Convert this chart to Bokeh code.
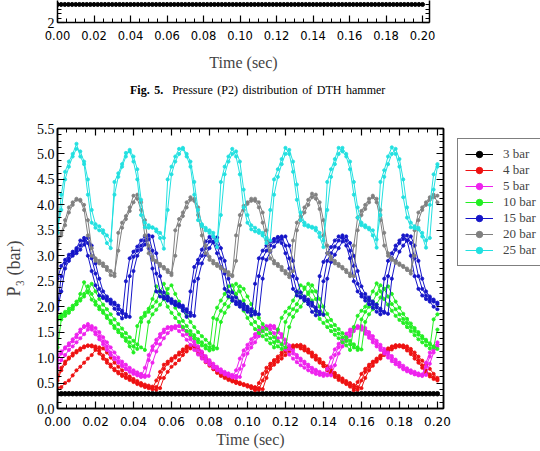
from bokeh.plotting import figure
from bokeh.layouts import column, row
from bokeh.models import (Range1d, LinearAxis, FixedTicker, PrintfTickFormatter, CustomJSTickFormatter,
                          Legend, LegendItem, Div)
from bokeh.embed import file_html
from bokeh.resources import INLINE

# ---------------- data ----------------
T = [0.000, 0.002, 0.004, 0.006, 0.008, 0.010, 0.012, 0.014, 0.016, 0.018,
     0.020, 0.022, 0.024, 0.026, 0.028, 0.030, 0.032, 0.034, 0.036, 0.038,
     0.040, 0.042, 0.044, 0.046, 0.048, 0.050, 0.052, 0.054, 0.056, 0.058,
     0.060, 0.062, 0.064, 0.066, 0.068, 0.070, 0.072, 0.074, 0.076, 0.078,
     0.080, 0.082, 0.084, 0.086, 0.088, 0.090, 0.092, 0.094, 0.096, 0.098,
     0.100, 0.102, 0.104, 0.106, 0.108, 0.110, 0.112, 0.114, 0.116, 0.118,
     0.120, 0.122, 0.124, 0.126, 0.128, 0.130, 0.132, 0.134, 0.136, 0.138,
     0.140, 0.142, 0.144, 0.146, 0.148, 0.150, 0.152, 0.154, 0.156, 0.158,
     0.160, 0.162, 0.164, 0.166, 0.168, 0.170, 0.172, 0.174, 0.176, 0.178,
     0.180, 0.182, 0.184, 0.186, 0.188, 0.190, 0.192, 0.194, 0.196, 0.198,
     0.200]

P3_3BAR = [0.29, 0.29, 0.29, 0.29, 0.29, 0.29, 0.29, 0.29, 0.29, 0.29,
           0.29, 0.29, 0.29, 0.29, 0.29, 0.29, 0.29, 0.29, 0.29, 0.29,
           0.29, 0.29, 0.29, 0.29, 0.29, 0.29, 0.29, 0.29, 0.29, 0.29,
           0.29, 0.29, 0.29, 0.29, 0.29, 0.29, 0.29, 0.29, 0.29, 0.29,
           0.29, 0.29, 0.29, 0.29, 0.29, 0.29, 0.29, 0.29, 0.29, 0.29,
           0.29, 0.29, 0.29, 0.29, 0.29, 0.29, 0.29, 0.29, 0.29, 0.29,
           0.29, 0.29, 0.29, 0.29, 0.29, 0.29, 0.29, 0.29, 0.29, 0.29,
           0.29, 0.29, 0.29, 0.29, 0.29, 0.29, 0.29, 0.29, 0.29, 0.29,
           0.29, 0.29, 0.29, 0.29, 0.29, 0.29, 0.29, 0.29, 0.29, 0.29,
           0.29, 0.29, 0.29, 0.29, 0.29, 0.29, 0.29, 0.29, 0.29, 0.29,
           0.29]

P3_4BAR_A = [0.55, 0.75, 0.88, 0.98, 1.04, 1.1, 1.15, 1.2, 1.23, 1.24,
             1.22, 1.14, 1.04, 0.95, 0.86, 0.78, 0.72, 0.67, 0.62, 0.58,
             0.54, 0.5, 0.47, 0.44, 0.42, 0.39, 0.55, 0.72, 0.86, 0.92,
             0.98, 1.03, 1.1, 1.16, 1.22, 1.24, 1.2, 1.08, 1.0, 0.91,
             0.84, 0.77, 0.7, 0.64, 0.6, 0.56, 0.53, 0.5, 0.48, 0.46,
             0.43, 0.4, 0.36, 0.5, 0.68, 0.8, 0.88, 0.95, 1.02, 1.1,
             1.17, 1.22, 1.24, 1.22, 1.18, 1.14, 1.1, 1.02, 0.96, 0.9,
             0.83, 0.75, 0.68, 0.62, 0.56, 0.52, 0.48, 0.43, 0.36, 0.52,
             0.68, 0.78, 0.86, 0.92, 0.98, 1.04, 1.12, 1.18, 1.22, 1.24,
             1.22, 1.2, 1.14, 1.07, 0.98, 0.9, 0.8, 0.7, 0.63, 0.58,
             0.55]
P3_4BAR_B = [0.4, 0.42, 0.5, 0.55, 0.65, 0.75, 0.82, 0.9, 0.98, 1.05,
             1.15, 1.2, 1.18, 1.1, 1.0, 0.9, 0.82, 0.75, 0.68, 0.63,
             0.58, 0.54, 0.5, 0.47, 0.45, 0.43, 0.42, 0.4, 0.6, 0.72,
             0.82, 0.88, 0.95, 1.05, 1.12, 1.18, 1.22, 1.2, 1.1, 1.0,
             0.92, 0.85, 0.78, 0.72, 0.66, 0.61, 0.57, 0.54, 0.51, 0.48,
             0.46, 0.44, 0.42, 0.4, 0.38, 0.6, 0.78, 0.86, 0.92, 0.98,
             1.05, 1.12, 1.18, 1.24, 1.25, 1.22, 1.16, 1.1, 1.04, 0.97,
             0.9, 0.83, 0.76, 0.7, 0.64, 0.59, 0.54, 0.5, 0.46, 0.42,
             0.4, 0.6, 0.75, 0.84, 0.92, 0.98, 1.05, 1.12, 1.16, 1.2,
             1.24, 1.24, 1.22, 1.17, 1.1, 1.02, 0.94, 0.86, 0.78, 0.68,
             0.6]
P3_4BAR_C = [0.62, 0.8, 0.92, 1.0, 1.08, 1.13, 1.18, 1.22, 1.24, 1.22,
             1.18, 1.08, 0.98, 0.9, 0.82, 0.75, 0.69, 0.64, 0.6, 0.56,
             0.52, 0.48, 0.45, 0.42, 0.4, 0.38, 0.37, 0.6, 0.78, 0.88,
             0.94, 1.0, 1.06, 1.12, 1.18, 1.22, 1.24, 1.18, 1.08, 0.98,
             0.9, 0.82, 0.74, 0.68, 0.63, 0.58, 0.55, 0.52, 0.49, 0.47,
             0.45, 0.42, 0.39, 0.37, 0.55, 0.72, 0.84, 0.92, 0.98, 1.05,
             1.12, 1.18, 1.22, 1.24, 1.22, 1.18, 1.12, 1.06, 0.99, 0.92,
             0.86, 0.79, 0.72, 0.66, 0.6, 0.55, 0.5, 0.46, 0.41, 0.37,
             0.55, 0.72, 0.82, 0.9, 0.96, 1.02, 1.08, 1.15, 1.2, 1.24,
             1.24, 1.22, 1.18, 1.12, 1.04, 0.95, 0.85, 0.75, 0.67, 0.61,
             0.57]

P3_5BAR_A = [0.95, 1.08, 1.18, 1.24, 1.32, 1.4, 1.5, 1.6, 1.66, 1.58,
             1.5, 1.42, 1.32, 1.22, 1.1, 1.0, 0.93, 0.86, 0.79, 0.74,
             0.7, 0.67, 0.63, 0.62, 0.95, 1.15, 1.28, 1.4, 1.5, 1.58,
             1.6, 1.62, 1.62, 1.55, 1.46, 1.36, 1.25, 1.14, 1.05, 0.97,
             0.9, 0.83, 0.78, 0.73, 0.69, 0.66, 0.63, 0.6, 0.78, 1.05,
             1.18, 1.28, 1.4, 1.5, 1.57, 1.6, 1.63, 1.58, 1.5, 1.4,
             1.28, 1.17, 1.08, 1.0, 0.94, 0.88, 0.82, 0.77, 0.73, 0.7,
             0.67, 0.65, 0.82, 1.05, 1.2, 1.3, 1.4, 1.5, 1.57, 1.62,
             1.6, 1.52, 1.44, 1.36, 1.27, 1.2, 1.13, 1.06, 0.98, 0.91,
             0.86, 0.8, 0.75, 0.71, 0.68, 0.66, 0.65, 0.9, 1.1, 1.2,
             1.3]
P3_5BAR_B = [0.8, 0.95, 1.05, 1.15, 1.22, 1.3, 1.38, 1.46, 1.55, 1.62,
             1.58, 1.5, 1.4, 1.3, 1.2, 1.1, 1.0, 0.92, 0.86, 0.8,
             0.75, 0.71, 0.68, 0.65, 0.64, 0.9, 1.12, 1.26, 1.38, 1.48,
             1.55, 1.6, 1.62, 1.6, 1.52, 1.42, 1.32, 1.22, 1.12, 1.03,
             0.95, 0.88, 0.82, 0.77, 0.72, 0.69, 0.66, 0.64, 0.62, 0.85,
             1.08, 1.2, 1.3, 1.42, 1.52, 1.58, 1.62, 1.62, 1.55, 1.46,
             1.35, 1.24, 1.14, 1.05, 0.98, 0.92, 0.86, 0.8, 0.76, 0.72,
             0.69, 0.67, 0.65, 0.85, 1.08, 1.22, 1.33, 1.43, 1.52, 1.58,
             1.62, 1.58, 1.5, 1.42, 1.33, 1.25, 1.17, 1.1, 1.03, 0.96,
             0.9, 0.84, 0.79, 0.75, 0.72, 0.69, 0.67, 0.66, 0.88, 1.1,
             1.22]
P3_5BAR_C = [1.05, 1.12, 1.2, 1.28, 1.36, 1.45, 1.55, 1.62, 1.62, 1.55,
             1.46, 1.36, 1.26, 1.15, 1.05, 0.97, 0.9, 0.83, 0.77, 0.72,
             0.68, 0.65, 0.62, 0.8, 1.05, 1.22, 1.35, 1.46, 1.55, 1.6,
             1.6, 1.58, 1.52, 1.44, 1.35, 1.25, 1.15, 1.06, 0.98, 0.92,
             0.86, 0.8, 0.75, 0.71, 0.67, 0.64, 0.61, 0.75, 0.98, 1.14,
             1.25, 1.36, 1.46, 1.54, 1.6, 1.62, 1.56, 1.48, 1.38, 1.27,
             1.16, 1.06, 0.98, 0.91, 0.85, 0.8, 0.75, 0.71, 0.68, 0.66,
             0.64, 0.78, 1.0, 1.16, 1.27, 1.37, 1.47, 1.55, 1.6, 1.6,
             1.55, 1.47, 1.39, 1.3, 1.22, 1.15, 1.08, 1.0, 0.93, 0.87,
             0.82, 0.77, 0.73, 0.7, 0.67, 0.65, 0.64, 0.82, 1.02, 1.16,
             1.26]

P3_10BAR_A = [1.2, 1.75, 1.82, 1.88, 1.95, 2.05, 2.25, 2.48, 2.28, 2.14,
              2.04, 1.95, 1.88, 1.78, 1.68, 1.58, 1.5, 1.42, 1.33, 1.22,
              1.1, 1.62, 1.78, 1.88, 1.96, 2.15, 2.4, 2.3, 2.15, 2.0,
              1.88, 1.78, 1.7, 1.6, 1.52, 1.45, 1.38, 1.3, 1.24, 1.18,
              1.14, 1.78, 1.98, 2.12, 2.25, 2.4, 2.42, 2.25, 2.08, 1.92,
              1.78, 1.66, 1.56, 1.48, 1.42, 1.35, 1.28, 1.2, 1.55, 1.78,
              1.9, 1.98, 2.12, 2.28, 2.42, 2.38, 2.25, 2.12, 1.92, 1.76,
              1.68, 1.6, 1.52, 1.45, 1.38, 1.3, 1.24, 1.15, 1.6, 1.82,
              1.92, 2.0, 2.15, 2.3, 2.46, 2.3, 2.15, 2.04, 1.92, 1.82,
              1.74, 1.68, 1.6, 1.52, 1.44, 1.36, 1.3, 1.24, 1.18, 1.75,
              1.85]
P3_10BAR_B = [1.8, 1.85, 1.9, 1.96, 2.02, 2.1, 2.15, 2.25, 2.4, 2.25,
              2.1, 2.0, 1.92, 1.82, 1.72, 1.62, 1.54, 1.46, 1.38, 1.3,
              1.22, 1.17, 1.7, 1.82, 1.9, 2.0, 2.1, 2.3, 2.45, 2.25,
              2.1, 1.98, 1.85, 1.72, 1.62, 1.52, 1.44, 1.36, 1.3, 1.24,
              1.2, 1.16, 1.75, 1.92, 2.05, 2.18, 2.3, 2.45, 2.3, 2.12,
              1.96, 1.82, 1.7, 1.6, 1.52, 1.45, 1.38, 1.3, 1.22, 1.17,
              1.7, 1.85, 1.95, 2.05, 2.2, 2.35, 2.45, 2.3, 2.15, 2.0,
              1.85, 1.72, 1.62, 1.54, 1.47, 1.4, 1.33, 1.26, 1.2, 1.15,
              1.75, 1.9, 2.0, 2.1, 2.25, 2.42, 2.35, 2.2, 2.05, 1.95,
              1.85, 1.76, 1.68, 1.6, 1.52, 1.45, 1.38, 1.32, 1.26, 1.2,
              1.55]
P3_10BAR_C = [1.75, 1.8, 1.86, 1.92, 1.98, 2.05, 2.12, 2.2, 2.3, 2.45,
              2.3, 2.15, 2.04, 1.95, 1.85, 1.75, 1.66, 1.57, 1.48, 1.4,
              1.33, 1.26, 1.2, 1.15, 1.7, 1.85, 1.94, 2.04, 2.15, 2.35,
              2.42, 2.25, 2.1, 1.95, 1.82, 1.7, 1.6, 1.5, 1.42, 1.35,
              1.28, 1.22, 1.18, 1.7, 1.88, 2.0, 2.12, 2.25, 2.4, 2.35,
              2.2, 2.05, 1.9, 1.78, 1.66, 1.56, 1.48, 1.4, 1.32, 1.26,
              1.2, 1.6, 1.8, 1.92, 2.0, 2.12, 2.28, 2.42, 2.3, 2.15,
              2.0, 1.86, 1.74, 1.64, 1.56, 1.48, 1.4, 1.33, 1.26, 1.2,
              1.16, 1.7, 1.85, 1.95, 2.05, 2.18, 2.35, 2.4, 2.25, 2.1,
              1.98, 1.86, 1.76, 1.67, 1.58, 1.5, 1.42, 1.35, 1.28, 1.22,
              1.17]

P3_15BAR_A = [2.55, 2.8, 2.92, 3.02, 3.08, 3.15, 3.3, 3.3, 3.0, 2.7,
              2.42, 2.22, 2.17, 2.12, 2.06, 1.96, 1.86, 1.77, 2.5, 2.95,
              3.08, 3.18, 3.3, 3.38, 3.15, 2.75, 2.3, 2.2, 2.16, 2.12,
              2.07, 2.03, 2.0, 1.92, 1.8, 2.3, 2.78, 2.92, 3.12, 3.28,
              3.37, 3.26, 3.05, 2.78, 2.35, 2.2, 2.12, 2.05, 2.0, 1.95,
              1.9, 1.83, 2.45, 2.95, 3.1, 3.2, 3.28, 3.33, 3.37, 3.25,
              3.05, 2.75, 2.35, 2.22, 2.18, 2.12, 2.05, 1.9, 1.83, 2.6,
              2.88, 3.05, 3.17, 3.3, 3.38, 3.35, 3.2, 2.95, 2.5, 2.3,
              2.2, 2.12, 2.05, 1.98, 1.9, 1.85, 2.55, 2.9, 3.05, 3.2,
              3.3, 3.4, 3.3, 3.0, 2.6, 2.35, 2.22, 2.15, 2.1, 2.0,
              1.95]
P3_15BAR_B = [2.0, 2.6, 2.85, 2.95, 3.05, 3.1, 3.2, 3.35, 3.25, 2.95,
              2.65, 2.35, 2.2, 2.15, 2.1, 2.05, 1.95, 1.88, 1.8, 2.6,
              2.98, 3.1, 3.2, 3.3, 3.4, 3.1, 2.65, 2.3, 2.2, 2.15,
              2.1, 2.05, 2.02, 1.98, 1.9, 1.82, 2.5, 2.85, 3.0, 3.15,
              3.28, 3.38, 3.2, 2.95, 2.65, 2.3, 2.18, 2.1, 2.05, 2.0,
              1.95, 1.9, 1.85, 2.6, 2.95, 3.1, 3.2, 3.28, 3.35, 3.38,
              3.2, 2.95, 2.6, 2.3, 2.2, 2.15, 2.1, 2.02, 1.92, 1.85,
              2.5, 2.9, 3.05, 3.18, 3.3, 3.4, 3.3, 3.1, 2.8, 2.45,
              2.25, 2.18, 2.12, 2.05, 1.98, 1.92, 1.88, 2.6, 2.95, 3.12,
              3.25, 3.33, 3.4, 3.25, 2.95, 2.6, 2.35, 2.22, 2.15, 2.1,
              2.05]
P3_15BAR_C = [1.95, 2.3, 2.75, 2.9, 3.0, 3.05, 3.12, 3.22, 3.35, 3.2,
              2.85, 2.55, 2.3, 2.2, 2.14, 2.08, 2.02, 1.92, 1.85, 1.8,
              2.7, 3.0, 3.12, 3.22, 3.32, 3.38, 3.05, 2.6, 2.28, 2.2,
              2.15, 2.1, 2.05, 2.02, 1.95, 1.88, 1.82, 2.55, 2.85, 3.02,
              3.15, 3.28, 3.36, 3.15, 2.9, 2.55, 2.28, 2.18, 2.1, 2.05,
              2.0, 1.95, 1.9, 1.85, 2.55, 2.92, 3.08, 3.18, 3.28, 3.33,
              3.38, 3.2, 2.9, 2.55, 2.28, 2.2, 2.14, 2.08, 1.98, 1.9,
              1.84, 2.55, 2.88, 3.02, 3.15, 3.28, 3.38, 3.25, 3.0, 2.7,
              2.4, 2.25, 2.18, 2.1, 2.04, 1.96, 1.9, 1.86, 2.55, 2.9,
              3.08, 3.2, 3.3, 3.38, 3.2, 2.9, 2.55, 2.3, 2.2, 2.14,
              2.08]

P3_20BAR_A = [3.2, 3.45, 3.7, 3.95, 4.05, 4.12, 4.08, 3.9, 3.4, 3.0,
              2.9, 2.85, 2.8, 2.72, 2.62, 2.6, 3.45, 3.65, 3.78, 3.95,
              4.18, 4.12, 3.9, 3.4, 3.05, 2.92, 2.88, 2.8, 2.75, 2.68,
              2.62, 3.5, 3.72, 3.85, 4.05, 4.15, 4.08, 3.8, 3.4, 3.05,
              2.92, 2.85, 2.8, 2.75, 2.7, 2.62, 2.6, 3.4, 3.8, 3.98,
              4.05, 4.12, 4.08, 3.95, 3.65, 3.3, 2.95, 2.85, 2.8, 2.72,
              2.65, 2.58, 3.3, 3.65, 3.78, 3.95, 4.1, 4.22, 4.12, 3.92,
              3.4, 3.05, 2.93, 2.85, 2.8, 2.75, 2.68, 2.6, 3.2, 3.75,
              3.88, 4.0, 4.12, 4.15, 4.05, 3.7, 3.2, 3.0, 2.92, 2.86,
              2.82, 2.78, 2.72, 2.65, 3.5, 3.85, 3.95, 4.05, 4.15, 4.2,
              4.05]
P3_20BAR_B = [3.35, 3.4, 3.6, 3.85, 4.0, 4.1, 4.1, 4.0, 3.7, 3.15,
              2.95, 2.9, 2.85, 2.78, 2.7, 2.65, 3.1, 3.55, 3.72, 3.88,
              4.05, 4.2, 4.05, 3.7, 3.2, 2.98, 2.9, 2.84, 2.78, 2.72,
              2.66, 3.0, 3.6, 3.78, 3.95, 4.1, 4.12, 3.95, 3.6, 3.2,
              2.98, 2.9, 2.84, 2.78, 2.72, 2.68, 2.62, 2.9, 3.6, 3.9,
              4.02, 4.08, 4.12, 4.05, 3.85, 3.5, 3.1, 2.9, 2.84, 2.78,
              2.7, 2.64, 2.7, 3.5, 3.7, 3.85, 4.0, 4.15, 4.2, 4.05,
              3.7, 3.2, 2.98, 2.9, 2.84, 2.78, 2.72, 2.65, 2.6, 3.5,
              3.8, 3.92, 4.05, 4.18, 4.12, 3.9, 3.45, 3.05, 2.95, 2.9,
              2.85, 2.8, 2.75, 2.7, 3.0, 3.7, 3.9, 4.0, 4.1, 4.15,
              4.18]

P3_25BAR_A = [3.45, 4.2, 4.65, 4.85, 5.0, 5.2, 4.95, 4.8, 4.2, 3.65,
              3.55, 3.5, 3.45, 3.25, 3.15, 4.45, 4.62, 4.8, 5.02, 5.05,
              4.85, 4.5, 3.8, 3.56, 3.55, 3.56, 3.48, 3.35, 3.14, 4.5,
              4.75, 4.95, 5.1, 5.1, 4.95, 4.75, 4.2, 3.7, 3.58, 3.5,
              3.45, 3.38, 3.17, 4.45, 4.75, 4.95, 5.1, 4.95, 4.6, 3.95,
              3.65, 3.52, 3.48, 3.45, 3.4, 3.25, 3.9, 4.5, 4.7, 4.9,
              5.12, 5.0, 4.65, 4.1, 3.7, 3.6, 3.57, 3.55, 3.5, 3.37,
              3.17, 4.45, 4.7, 4.9, 5.12, 5.05, 4.95, 4.7, 4.2, 3.75,
              3.6, 3.56, 3.52, 3.4, 3.16, 4.45, 4.68, 4.95, 5.13, 5.0,
              4.75, 4.15, 3.75, 3.56, 3.54, 3.52, 3.38, 3.16, 4.0, 4.6,
              4.8]
P3_25BAR_B = [3.55, 3.9, 4.5, 4.75, 4.95, 5.1, 5.05, 4.85, 4.5, 3.9,
              3.62, 3.58, 3.5, 3.4, 3.3, 4.2, 4.55, 4.75, 4.95, 5.08,
              4.95, 4.7, 4.1, 3.65, 3.6, 3.55, 3.52, 3.45, 3.35, 3.9,
              4.6, 4.85, 5.0, 5.12, 5.0, 4.85, 4.45, 3.9, 3.62, 3.55,
              3.5, 3.45, 3.3, 3.8, 4.6, 4.85, 5.0, 5.05, 4.85, 4.3,
              3.8, 3.6, 3.55, 3.5, 3.45, 3.35, 3.3, 4.2, 4.55, 4.8,
              5.0, 5.08, 4.85, 4.4, 3.85, 3.65, 3.6, 3.57, 3.55, 3.45,
              3.3, 3.9, 4.55, 4.8, 5.0, 5.12, 5.0, 4.85, 4.45, 3.95,
              3.65, 3.6, 3.55, 3.5, 3.32, 3.8, 4.55, 4.8, 5.0, 5.1,
              4.9, 4.5, 3.95, 3.65, 3.58, 3.55, 3.45, 3.3, 3.35, 4.3,
              4.75]

# remnant of the previous figure (Fig. 5, P2, 3 bar line)
P2_3BAR = [2.41, 2.41, 2.41, 2.41, 2.41, 2.41, 2.41, 2.41, 2.41, 2.41,
           2.41, 2.41, 2.41, 2.41, 2.41, 2.41, 2.41, 2.41, 2.41, 2.41,
           2.41, 2.41, 2.41, 2.41, 2.41, 2.41, 2.41, 2.41, 2.41, 2.41,
           2.41, 2.41, 2.41, 2.41, 2.41, 2.41, 2.41, 2.41, 2.41, 2.41,
           2.41, 2.41, 2.41, 2.41, 2.41, 2.41, 2.41, 2.41, 2.41, 2.41,
           2.41, 2.41, 2.41, 2.41, 2.41, 2.41, 2.41, 2.41, 2.41, 2.41,
           2.41, 2.41, 2.41, 2.41, 2.41, 2.41, 2.41, 2.41, 2.41, 2.41,
           2.41, 2.41, 2.41, 2.41, 2.41, 2.41, 2.41, 2.41, 2.41, 2.41,
           2.41, 2.41, 2.41, 2.41, 2.41, 2.41, 2.41, 2.41, 2.41, 2.41,
           2.41, 2.41, 2.41, 2.41, 2.41, 2.41, 2.41, 2.41, 2.41, 2.41,
           2.41]

SERIES = [
    ("3 bar", "#000000", [P3_3BAR]),
    ("4 bar", "#EE1111", [P3_4BAR_A, P3_4BAR_B, P3_4BAR_C]),
    ("5 bar", "#EE22EE", [P3_5BAR_A, P3_5BAR_B, P3_5BAR_C]),
    ("10 bar", "#22EE22", [P3_10BAR_A, P3_10BAR_B, P3_10BAR_C]),
    ("15 bar", "#1515C8", [P3_15BAR_A, P3_15BAR_B, P3_15BAR_C]),
    ("20 bar", "#808080", [P3_20BAR_A, P3_20BAR_B]),
    ("25 bar", "#22E0E0", [P3_25BAR_A, P3_25BAR_B]),
]

X_TICKS = [0.00, 0.02, 0.04, 0.06, 0.08, 0.10, 0.12, 0.14, 0.16, 0.18, 0.20]
Y_TICKS = [0.0, 0.5, 1.0, 1.5, 2.0, 2.5, 3.0, 3.5, 4.0, 4.5, 5.0, 5.5]

X_LABEL = "Time (sec)"
Y_LABEL = "P\u2083 (bar)"
CAPTION_BOLD = "Fig. 5."
CAPTION_TEXT = "Pressure (P2) distribution of DTH hammer"

SERIF = "Liberation Serif"
SANS = "DejaVu Sans"

X_MINOR = [round(0.005 * i, 4) for i in range(0, 41)]
Y_MINOR = [round(0.125 * i, 4) for i in range(0, 45)]


def style_axis(ax, font, size, show=True, standoff=4):
    ax.major_tick_in = 7
    ax.major_tick_out = 0
    ax.minor_tick_in = 4
    ax.minor_tick_out = 0
    ax.axis_line_color = "black"
    ax.axis_line_width = 1.5
    ax.major_tick_line_color = "black"
    ax.major_tick_line_width = 1.2
    ax.minor_tick_line_color = "black"
    ax.minor_tick_line_width = 1.0
    ax.major_label_standoff = standoff
    ax.major_label_text_font = font
    ax.major_label_text_font_size = size
    ax.major_label_text_color = "black"
    if not show:
        # tick marks only: empty labels in a 1px font take (almost) no room
        ax.formatter = CustomJSTickFormatter(code="return '';")
        ax.major_label_text_font_size = "1px"
        ax.major_label_standoff = 0


LEFT_W = 453   # nominal width of the left column (strip, caption, chart)
LEG_W = 83     # width of the legend panel to its right
PAGE_H = 451

# ---------------- top strip: remnant of Fig. 5 ----------------
pt = figure(frame_width=372, frame_height=22, x_range=Range1d(0, 0.2038), y_range=Range1d(2, 2.5),
            output_backend="svg", toolbar_location=None,
            min_border_left=52, min_border_right=LEFT_W - 52 - 372, min_border_top=0, min_border_bottom=52)
pt.outline_line_color = None
pt.xgrid.visible = False
pt.ygrid.visible = False
pt.xaxis.ticker = FixedTicker(ticks=X_TICKS, minor_ticks=X_MINOR)
pt.xaxis.formatter = PrintfTickFormatter(format="%.2f")
style_axis(pt.xaxis[0], SANS, "11.5px", True, 8)
pt.xaxis.axis_label = X_LABEL
pt.xaxis.axis_label_text_font = SERIF
pt.xaxis.axis_label_text_font_size = "16px"
pt.xaxis.axis_label_text_font_style = "normal"
pt.xaxis.axis_label_standoff = 11
pt.yaxis.ticker = FixedTicker(ticks=[2], minor_ticks=[2.1, 2.2, 2.3, 2.4])
style_axis(pt.yaxis[0], SERIF, "14px", True, 3)
rt = LinearAxis(ticker=FixedTicker(ticks=[2], minor_ticks=[2.1, 2.2, 2.3, 2.4]))
style_axis(rt, SERIF, "14px", False)
pt.add_layout(rt, "right")

pt.line(T, P2_3BAR, line_color="black", line_width=1.5)
pt.scatter(T, P2_3BAR, marker="circle", size=4, fill_color="black", line_color="black")

caption = Div(text="<b>%s</b>&nbsp; %s" % (CAPTION_BOLD, CAPTION_TEXT), width=LEFT_W, height=38, margin=0,
              styles={"font-family": SERIF, "font-size": "12px", "padding-left": "130px",
                      "padding-top": "8px", "word-spacing": "1.5px", "white-space": "nowrap",
                      "color": "black", "box-sizing": "border-box", "overflow": "visible"})

# ---------------- main chart: P3 ----------------
p = figure(frame_width=386, frame_height=280, x_range=Range1d(0, 0.2032), y_range=Range1d(0, 5.5),
           output_backend="svg", toolbar_location=None,
           min_border_left=53, min_border_right=LEFT_W - 53 - 386, min_border_top=16, min_border_bottom=43)
p.outline_line_color = "black"
p.outline_line_width = 1.5
p.xgrid.visible = False
p.ygrid.visible = False

p.xaxis.ticker = FixedTicker(ticks=X_TICKS, minor_ticks=X_MINOR)
p.xaxis.formatter = PrintfTickFormatter(format="%.2f")
style_axis(p.xaxis[0], SANS, "12px", True, 8)
p.xaxis.axis_label = X_LABEL
p.xaxis.axis_label_text_font = SERIF
p.xaxis.axis_label_text_font_size = "16px"
p.xaxis.axis_label_text_font_style = "normal"
p.xaxis.axis_label_standoff = 2

p.yaxis.ticker = FixedTicker(ticks=Y_TICKS, minor_ticks=Y_MINOR)
p.yaxis.formatter = PrintfTickFormatter(format="%.1f")
style_axis(p.yaxis[0], SERIF, "14px", True, 3)
p.yaxis.axis_label = Y_LABEL
p.yaxis.axis_label_text_font = SERIF
p.yaxis.axis_label_text_font_size = "18px"
p.yaxis.axis_label_text_font_style = "normal"
p.yaxis.axis_label_standoff = 10

top_ax = LinearAxis(ticker=FixedTicker(ticks=X_TICKS, minor_ticks=X_MINOR))
style_axis(top_ax, SANS, "12px", False)
p.add_layout(top_ax, "above")
right_ax = LinearAxis(ticker=FixedTicker(ticks=Y_TICKS, minor_ticks=Y_MINOR))
style_axis(right_ax, SERIF, "14px", False)
p.add_layout(right_ax, "right")

# legend panel: a plot of its own at the page's right; its renderers hold the same series,
# but its y range lies far outside the data, so only the legend box is seen
lg = figure(frame_width=LEG_W, frame_height=PAGE_H, x_range=Range1d(0, 1), y_range=Range1d(100, 101),
            x_axis_type=None, y_axis_type=None, output_backend="svg", toolbar_location=None,
            min_border_left=0, min_border_right=0, min_border_top=0, min_border_bottom=0)
lg.outline_line_color = None

items = []
for name, color, traces in SERIES:
    for ys in traces:
        p.line(T, ys, line_color=color, line_width=1.0)
        if name == "3 bar":
            p.scatter(T, ys, marker="circle", size=4.5, fill_color=color, line_color=color)
        else:
            p.scatter(T, ys, marker="circle", size=3.2, fill_color=color, line_color=color,
                      line_width=0.8)
    lr = lg.line(T, traces[0], line_color=color, line_width=1.0)
    sr = lg.scatter(T, traces[0], marker="circle", size=4, fill_color=color, line_color=color)
    items.append(LegendItem(label=name, renderers=[lr, sr]))

# legend box: top at 140 px from the page top, 126 px tall
legend = Legend(items=items, location=(0, PAGE_H - 140 - 126))
legend.border_line_color = "black"
legend.border_line_width = 1
legend.background_fill_color = "white"
legend.background_fill_alpha = 1.0
legend.padding = 7
legend.spacing = 0
legend.margin = 0
legend.glyph_width = 28
legend.glyph_height = 16
legend.label_height = 16
legend.label_width = 30
legend.label_standoff = 10
legend.label_text_font = SERIF
legend.label_text_font_size = "13px"
legend.label_text_baseline = "middle"
lg.add_layout(legend)

layout = row(column(pt, caption, p, spacing=0), lg, spacing=0)
open("out.html", "w").write(file_html(layout, INLINE))
